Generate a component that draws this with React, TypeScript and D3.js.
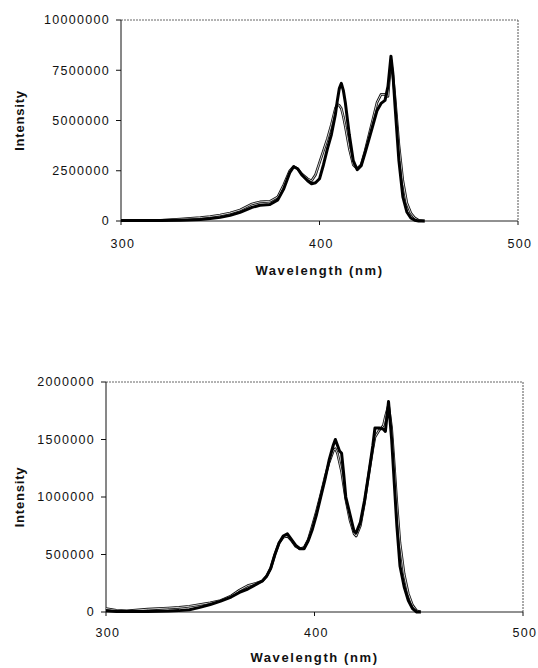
import React from "react";
import * as d3 from "d3";

// ---------- data ----------
const xTicks = [300, 400, 500];
const topYTicks = [0, 2500000, 5000000, 7500000, 10000000];
const bottomYTicks = [0, 500000, 1000000, 1500000, 2000000];

const topWavelength = [300, 310, 320, 330, 340, 345, 350, 355, 360, 363, 366, 370, 375, 379, 382, 385, 387, 389, 391, 394, 396, 398, 400, 402, 404, 406, 408, 409, 410, 411, 412, 413, 415, 417, 419, 421, 423, 425, 427, 429, 431, 433, 434.5, 436, 437, 438, 440, 442, 444, 446, 448, 450, 453];
const topThick = [0.02, 0.02, 0.02, 0.04, 0.08, 0.12, 0.18, 0.28, 0.43, 0.55, 0.68, 0.78, 0.82, 1.05, 1.6, 2.4, 2.7, 2.6, 2.3, 2.0, 1.85, 1.9, 2.1, 2.8, 3.6, 4.3, 5.3, 6.0, 6.6, 6.85, 6.5, 5.9, 4.3, 3.0, 2.55, 2.75, 3.4, 4.1, 4.8, 5.5, 5.85, 6.0, 6.7, 8.2, 7.3, 5.8, 3.0, 1.2, 0.45, 0.15, 0.04, 0.0, 0.0];
const topThin = [0.02, 0.02, 0.04, 0.1, 0.17, 0.22, 0.3, 0.4, 0.55, 0.7, 0.85, 0.95, 0.98, 1.2, 1.8, 2.5, 2.72, 2.6, 2.35, 2.1, 2.0, 2.3, 2.9, 3.5, 4.1, 4.8, 5.6, 5.8, 5.75, 5.6, 5.2, 4.7, 3.6, 2.8, 2.6, 2.8, 3.5, 4.3, 5.1, 5.9, 6.3, 6.3, 6.2, 8.0, 7.2, 6.2, 3.8, 2.0, 0.9, 0.4, 0.15, 0.03, 0.0];

const bottomWavelength = [300, 305, 310, 320, 330, 335, 340, 345, 350, 355, 360, 364, 368, 372, 375, 377, 379, 381, 383, 385, 387, 389, 391, 393, 395, 397, 399, 401, 403, 405, 407, 409, 410, 411, 412, 413, 414, 415, 417, 419, 420, 422, 424, 426, 428, 429, 431, 433, 434, 435.5, 437, 438, 439.5, 441, 443, 445, 447, 449, 451];
const bottomThick = [0.01, 0.005, 0.005, 0.005, 0.008, 0.012, 0.02, 0.04, 0.065, 0.095, 0.13, 0.17, 0.2, 0.24, 0.27, 0.31, 0.38, 0.5, 0.6, 0.66, 0.68, 0.63, 0.58, 0.55, 0.55, 0.62, 0.72, 0.85, 1.0, 1.15, 1.32, 1.45, 1.5, 1.45, 1.4, 1.38, 1.2, 1.0, 0.85, 0.7, 0.69, 0.78, 0.97, 1.2, 1.45, 1.6, 1.6, 1.59, 1.57, 1.83, 1.5, 1.2, 0.75, 0.4, 0.22, 0.1, 0.03, 0.0, 0.0];
const bottomThin = [0.03, 0.015, 0.01, 0.025, 0.035, 0.04, 0.05, 0.065, 0.08, 0.1, 0.14, 0.19, 0.23, 0.25, 0.27, 0.31, 0.38, 0.5, 0.6, 0.65, 0.66, 0.62, 0.57, 0.55, 0.56, 0.63, 0.75, 0.88, 1.02, 1.17, 1.3, 1.4, 1.42, 1.38, 1.3, 1.22, 1.1, 0.98, 0.8, 0.68, 0.66, 0.75, 0.95, 1.2, 1.42, 1.52, 1.58, 1.62, 1.7, 1.8, 1.6, 1.35, 0.95, 0.6, 0.33, 0.16, 0.06, 0.01, 0.0];

const FONT = "'Liberation Sans', Arial, sans-serif";

type ChartProps = {
  left: number; right: number; top: number; bottom: number;
  yMax: number; yTicks: number[];
  wl: number[]; thick: number[]; thin: number[];
  titleY: number; xLabelY: number; tickLabelY: number;
};

function Chart(p: ChartProps) {
  const x = d3.scaleLinear().domain([300, 500]).range([p.left, p.right]);
  const y = d3.scaleLinear().domain([0, p.yMax]).range([p.bottom, p.top]);
  const line = d3.line<number>()
    .x((_, i) => x(p.wl[i]))
    .y((v) => y(v * 1e6));
  const thinPath = line(p.thin) || "";
  const thickPath = line(p.thick) || "";
  return (
    <g>
      {/* frame */}
      <line x1={p.left} x2={p.right} y1={p.top} y2={p.top} stroke="#666" strokeDasharray="2,1" />
      <line x1={p.right} x2={p.right} y1={p.top} y2={p.bottom} stroke="#555" strokeDasharray="2,1" />
      <line x1={p.left} x2={p.right} y1={p.bottom} y2={p.bottom} stroke="#222" />
      <line x1={p.left} x2={p.left} y1={p.top} y2={p.bottom} stroke="#111" />
      {p.yTicks.map((t) => (
        <g key={t}>
          <line x1={p.left - 5} x2={p.left} y1={y(t)} y2={y(t)} stroke="#111" />
          <text x={p.left - 11} y={y(t)} dy="0.35em" textAnchor="end" fontSize={12.5}
            letterSpacing={1.3} fontFamily={FONT} fill="#111">{t}</text>
        </g>
      ))}
      {xTicks.map((t) => (
        <g key={t}>
          <line x1={x(t)} x2={x(t)} y1={p.bottom} y2={p.bottom + 4} stroke="#111" />
          <text x={x(t) + 2} y={p.tickLabelY} textAnchor="middle" fontSize={12.5}
            letterSpacing={1.3} fontFamily={FONT} fill="#111">{t}</text>
        </g>
      ))}
      <path d={thinPath} fill="none" stroke="#111" strokeWidth={2.6} strokeLinejoin="round" />
      <path d={thinPath} fill="none" stroke="#fff" strokeWidth={0.8} strokeLinejoin="round" />
      <path d={thickPath} fill="none" stroke="#000" strokeWidth={3} strokeLinejoin="round" />
      <text x={(p.left + p.right) / 2} y={p.xLabelY} textAnchor="middle" fontSize={13}
        fontWeight="bold" letterSpacing={1.6} fontFamily={FONT} fill="#111">Wavelength (nm)</text>
      <text transform={`translate(24, ${(p.top + p.bottom) / 2}) rotate(-90)`} textAnchor="middle"
        fontSize={13} fontWeight="bold" letterSpacing={0.8} fontFamily={FONT} fill="#111">Intensity</text>
    </g>
  );
}

export default function App() {
  return (
    <svg width={538} height={668} style={{ position: "absolute", left: 0, top: 0, background: "#fff" }}>
      <rect width={538} height={668} fill="#fff" />
      <Chart left={121} right={518} top={20} bottom={221} yMax={10000000} yTicks={topYTicks}
        wl={topWavelength} thick={topThick} thin={topThin}
        titleY={0} xLabelY={275} tickLabelY={248} />
      <Chart left={106} right={523} top={382} bottom={612} yMax={2000000} yTicks={bottomYTicks}
        wl={bottomWavelength} thick={bottomThick} thin={bottomThin}
        titleY={0} xLabelY={662} tickLabelY={637} />
    </svg>
  );
}
